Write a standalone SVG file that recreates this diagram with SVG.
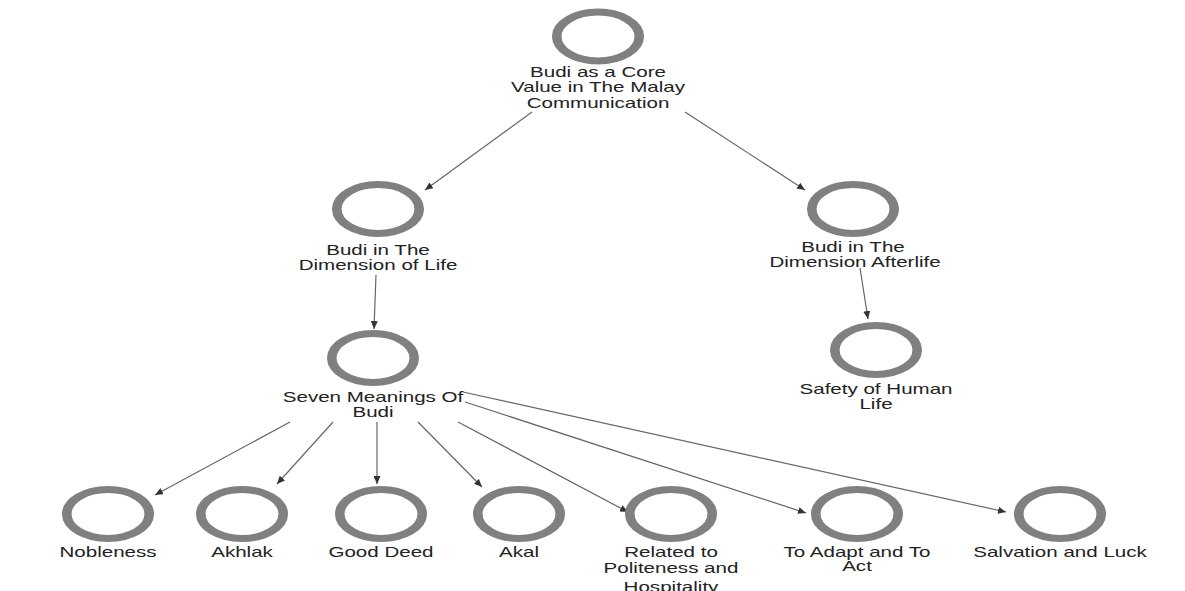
<svg xmlns="http://www.w3.org/2000/svg" width="1185" height="591" viewBox="0 0 1185 591">
  <style>
    .ring { fill: #ffffff; stroke: #808080; stroke-width: 7; }
    .t { font-family: "Liberation Sans", Arial, sans-serif; font-size: 15px; fill: #222222; text-anchor: middle; }
    .edge { stroke: #666666; stroke-width: 1.2; fill: none; marker-end: url(#arrow); }
  </style>
  <defs>
    <marker id="arrow" markerUnits="userSpaceOnUse" markerWidth="9" markerHeight="7" refX="8" refY="3.5" orient="auto">
      <path d="M0,0 L8,3.5 L0,7 Z" fill="#333333"/>
    </marker>
  </defs>
  <rect width="1185" height="591" fill="#ffffff"/>

  <g id="connectors">
    <line class="edge" x1="532" y1="112" x2="425" y2="190"/>
    <line class="edge" x1="685" y1="112" x2="805" y2="190"/>
    <line class="edge" x1="376" y1="275" x2="374" y2="329"/>
    <line class="edge" x1="860" y1="268" x2="868" y2="319"/>
    <line class="edge" x1="290" y1="422" x2="155" y2="495"/>
    <line class="edge" x1="333" y1="422" x2="277" y2="484"/>
    <line class="edge" x1="377" y1="422" x2="377" y2="484"/>
    <line class="edge" x1="418" y1="422" x2="482" y2="487"/>
    <line class="edge" x1="458" y1="422" x2="628" y2="512"/>
    <line class="edge" x1="465" y1="402" x2="806" y2="513"/>
    <line class="edge" x1="463" y1="392" x2="1006" y2="512"/>
  </g>

  <g id="n-root" transform="translate(598,36.5) scale(1.37,1)">
    <ellipse class="ring" rx="30.1" ry="24.5"/>
    <text class="t" y="40.5">Budi as a Core</text>
    <text class="t" y="56">Value in The Malay</text>
    <text class="t" y="71.5">Communication</text>
  </g>

  <g id="n-life" transform="translate(378,209) scale(1.37,1)">
    <ellipse class="ring" rx="30.1" ry="24.5"/>
    <text class="t" y="46">Budi in The</text>
    <text class="t" y="61.5">Dimension of Life</text>
  </g>

  <g id="n-afterlife" transform="translate(853,209) scale(1.37,1)">
    <ellipse class="ring" rx="30.1" ry="24.5"/>
    <text class="t" x="0" y="43">Budi in The</text>
    <text class="t" x="1.5" y="58">Dimension Afterlife</text>
  </g>

  <g id="n-seven" transform="translate(373,358) scale(1.37,1)">
    <ellipse class="ring" rx="30.1" ry="24.5"/>
    <text class="t" y="44">Seven Meanings Of</text>
    <text class="t" y="59.5">Budi</text>
  </g>

  <g id="n-safety" transform="translate(876,350) scale(1.37,1)">
    <ellipse class="ring" rx="30.1" ry="24.5"/>
    <text class="t" y="44">Safety of Human</text>
    <text class="t" y="59.5">Life</text>
  </g>

  <g id="n-nobleness" transform="translate(108,514) scale(1.37,1)">
    <ellipse class="ring" rx="30.1" ry="24.5"/>
    <text class="t" y="43">Nobleness</text>
  </g>

  <g id="n-akhlak" transform="translate(242,514) scale(1.37,1)">
    <ellipse class="ring" rx="30.1" ry="24.5"/>
    <text class="t" y="43">Akhlak</text>
  </g>

  <g id="n-gooddeed" transform="translate(381,514) scale(1.37,1)">
    <ellipse class="ring" rx="30.1" ry="24.5"/>
    <text class="t" y="43">Good Deed</text>
  </g>

  <g id="n-akal" transform="translate(519,514) scale(1.37,1)">
    <ellipse class="ring" rx="30.1" ry="24.5"/>
    <text class="t" y="43">Akal</text>
  </g>

  <g id="n-related" transform="translate(671,514) scale(1.37,1)">
    <ellipse class="ring" rx="30.1" ry="24.5"/>
    <text class="t" y="43">Related to</text>
    <text class="t" y="59">Politeness and</text>
    <text class="t" y="78">Hospitality</text>
  </g>

  <g id="n-adapt" transform="translate(857,514) scale(1.37,1)">
    <ellipse class="ring" rx="30.1" ry="24.5"/>
    <text class="t" y="43">To Adapt and To</text>
    <text class="t" y="57.5">Act</text>
  </g>

  <g id="n-salvation" transform="translate(1060,514) scale(1.37,1)">
    <ellipse class="ring" rx="30.1" ry="24.5"/>
    <text class="t" y="43">Salvation and Luck</text>
  </g>
</svg>
